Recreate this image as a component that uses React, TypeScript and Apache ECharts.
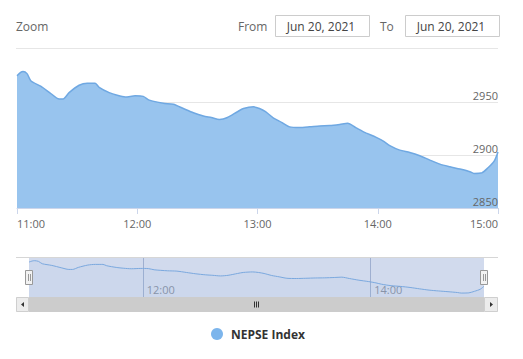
import React, { useEffect, useRef } from "react";
import * as echarts from "echarts";

const times = [
  "11:00", "11:02", "11:03", "11:05", "11:07", "11:12", "11:17", "11:21", "11:23", "11:26",
  "11:31", "11:35", "11:39", "11:41", "11:46", "11:50", "11:54", "11:59", "12:03", "12:06",
  "12:13", "12:18", "12:23", "12:28", "12:33", "12:37", "12:41", "12:45", "12:50", "12:53",
  "12:58", "13:01", "13:04", "13:08", "13:12", "13:16", "13:21", "13:26", "13:31", "13:36",
  "13:41", "13:45", "13:49", "13:54", "13:59", "14:03", "14:06", "14:11", "14:16", "14:21",
  "14:26", "14:31", "14:36", "14:41", "14:46", "14:48", "14:52", "14:55", "14:58", "15:00",
];
const values = [
  2975, 2978.5, 2979, 2977, 2970, 2965, 2958, 2953, 2953, 2959,
  2966, 2968, 2968, 2964, 2959, 2956.5, 2955, 2956, 2955.5, 2952,
  2949, 2948, 2944, 2940, 2937, 2935.5, 2933.7, 2935.5, 2941, 2944,
  2945.6, 2944, 2941, 2935, 2931, 2926.7, 2926, 2926.7, 2927.6, 2928,
  2929, 2930, 2926, 2921, 2917, 2913, 2909, 2904.7, 2902.5, 2899.4,
  2895.3, 2891.5, 2889, 2886.8, 2884.3, 2882.7, 2883.3, 2888, 2894, 2903,
];
const seriesName = "NEPSE Index";
const fromDate = "Jun 20, 2021";
const toDate = "Jun 20, 2021";
const yTicks = [2850, 2900, 2950];

const toMin = (t: string) => {
  const [h, m] = t.split(":").map(Number);
  return (h - 11) * 60 + m;
};
const fmt = (v: number) => `${11 + Math.round(v / 60)}:00`;

export default function App() {
  const ref = useRef<HTMLDivElement>(null);
  useEffect(() => {
    if (!ref.current) return;
    const chart = echarts.init(ref.current, undefined, { renderer: "svg" });
    const data = times.map((t, i) => [toMin(t), values[i]]);
    const font = "'Open Sans', sans-serif";
    const yMax = 2988;
    const hdr = (text: string, x: number, fill: string, align = "left") => ({
      type: "text",
      x,
      y: 26,
      style: { text, fill, font: `12px ${font}`, align, verticalAlign: "middle" },
    });
    chart.setOption({
      animation: false,
      textStyle: { fontFamily: font },
      legend: {
        data: [seriesName],
        left: 206,
        top: 323,
        icon: "circle",
        itemWidth: 12,
        itemHeight: 12,
        itemGap: 8,
        textStyle: { fontWeight: "bold", fontSize: 12, color: "#333", fontFamily: font, padding: [0, 0, 0, 3] },
      },
      grid: [
        { left: 17, right: 25, top: 62, height: 146 },
        { left: 29, right: 39, top: 257, height: 40 },
      ],
      xAxis: [
        {
          type: "value",
          gridIndex: 0,
          min: 0,
          max: 240,
          interval: 60,
          axisLine: { show: true, lineStyle: { color: "#ccd6eb" } },
          axisTick: { show: true, length: 6, lineStyle: { color: "#ccd6eb" } },
          splitLine: { show: false },
          axisLabel: {
            formatter: fmt,
            color: "#666",
            fontSize: 11,
            margin: 10,
            fontFamily: font,
            alignMinLabel: "left",
            alignMaxLabel: "right",
          },
        },
        {
          type: "value",
          gridIndex: 1,
          min: 0,
          max: 240,
          interval: 60,
          axisLine: { show: false },
          axisTick: { show: false },
          splitLine: { show: true, lineStyle: { color: ["rgba(0,0,0,0)", "#b8c2d6"], width: 1 } },
          axisLabel: {
            inside: true,
            formatter: (v: number) => (v === 60 || v === 180 ? fmt(v) : ""),
            color: "#999",
            fontSize: 11,
            margin: 2,
            align: "left",
            padding: [0, 0, 0, 4],
            fontFamily: font,
          },
        },
      ],
      yAxis: [
        {
          type: "value",
          gridIndex: 0,
          position: "right",
          min: yTicks[0],
          max: yMax,
          interval: 50,
          z: 10,
          axisLine: { show: false },
          axisTick: { show: false },
          splitLine: { show: false },
          axisLabel: {
            inside: true,
            showMaxLabel: false,
            formatter: (v: number) => String(v),
            color: "#666",
            fontSize: 11,
            margin: 0,
            verticalAlign: "bottom",
            padding: [0, 0, 1, 0],
            fontFamily: font,
          },
        },
        {
          type: "value",
          gridIndex: 1,
          min: 2871,
          max: 2990,
          show: false,
          splitLine: { show: false },
        },
        {
          type: "value",
          gridIndex: 0,
          position: "left",
          min: yTicks[0],
          max: yMax,
          interval: 50,
          z: 0,
          axisLine: { show: false },
          axisTick: { show: false },
          axisLabel: { show: false },
          splitLine: {
            show: true,
            lineStyle: { color: ["#e6e6e6", "#e6e6e6", "#e6e6e6", "rgba(0,0,0,0)"] },
          },
        },
      ],
      series: [
        {
          name: seriesName,
          type: "line",
          data,
          xAxisIndex: 0,
          yAxisIndex: 0,
          showSymbol: false,
          smooth: 0.25,
          color: "#7cb5ec",
          lineStyle: { color: "#6fa8e2", width: 1.5 },
          areaStyle: { color: "#98c4ee", opacity: 1 },
          z: 3,
        },
        {
          name: "navigator",
          type: "line",
          data,
          xAxisIndex: 1,
          yAxisIndex: 1,
          showSymbol: false,
          smooth: 0.25,
          lineStyle: { color: "#7aa8de", width: 1 },
          areaStyle: { color: "#7cb5ec", opacity: 0.05 },
          z: 3,
          silent: true,
        },
      ],
      graphic: [
        hdr("Zoom", 16, "#666"),
        hdr("From", 238, "#666"),
        { type: "rect", shape: { x: 275.5, y: 15.5, width: 94, height: 21 }, style: { fill: "#fff", stroke: "#ccc", lineWidth: 1 } },
        hdr(fromDate, 321, "#444", "center"),
        hdr("To", 380, "#666"),
        { type: "rect", shape: { x: 405.5, y: 15.5, width: 94, height: 21 }, style: { fill: "#fff", stroke: "#ccc", lineWidth: 1 } },
        hdr(toDate, 451, "#444", "center"),
        { type: "line", shape: { x1: 16, y1: 48.5, x2: 498, y2: 48.5 }, style: { stroke: "#e6e6e6", lineWidth: 1 } },
        // navigator mask and border
        { type: "rect", z: 1, shape: { x: 29, y: 257, width: 455, height: 40 }, style: { fill: "rgba(102,133,194,0.3)" } },
        { type: "line", z: 4, shape: { x1: 16, y1: 257.5, x2: 498, y2: 257.5 }, style: { stroke: "#d6d6d6", lineWidth: 1 } },
        // scrollbar
        { type: "rect", z: 4, shape: { x: 16, y: 297, width: 482, height: 15 }, style: { fill: "#f2f2f2" } },
        { type: "rect", z: 4, shape: { x: 29, y: 297, width: 455, height: 15 }, style: { fill: "#cccccc" } },
        { type: "rect", z: 4, shape: { x: 16.5, y: 297.5, width: 12, height: 14 }, style: { fill: "#ececec", stroke: "#cfcfcf", lineWidth: 1 } },
        { type: "rect", z: 4, shape: { x: 484.5, y: 297.5, width: 13, height: 14 }, style: { fill: "#ececec", stroke: "#cfcfcf", lineWidth: 1 } },
        { type: "polygon", z: 5, shape: { points: [[21, 304.5], [24, 302], [24, 307]] }, style: { fill: "#333" } },
        { type: "polygon", z: 5, shape: { points: [[493, 304.5], [490, 302], [490, 307]] }, style: { fill: "#333" } },
        { type: "line", z: 5, shape: { x1: 254.5, y1: 301.5, x2: 254.5, y2: 307.5 }, style: { stroke: "#333", lineWidth: 1 } },
        { type: "line", z: 5, shape: { x1: 256.5, y1: 301.5, x2: 256.5, y2: 307.5 }, style: { stroke: "#333", lineWidth: 1 } },
        { type: "line", z: 5, shape: { x1: 258.5, y1: 301.5, x2: 258.5, y2: 307.5 }, style: { stroke: "#333", lineWidth: 1 } },
        // handles
        { type: "rect", z: 6, shape: { x: 25.5, y: 270.5, width: 7, height: 14 }, style: { fill: "#f2f2f2", stroke: "#999", lineWidth: 1 } },
        { type: "line", z: 7, shape: { x1: 28.5, y1: 274, x2: 28.5, y2: 281 }, style: { stroke: "#999", lineWidth: 1 } },
        { type: "line", z: 7, shape: { x1: 30.5, y1: 274, x2: 30.5, y2: 281 }, style: { stroke: "#999", lineWidth: 1 } },
        { type: "rect", z: 6, shape: { x: 480.5, y: 270.5, width: 7, height: 14 }, style: { fill: "#f2f2f2", stroke: "#999", lineWidth: 1 } },
        { type: "line", z: 7, shape: { x1: 483.5, y1: 274, x2: 483.5, y2: 281 }, style: { stroke: "#999", lineWidth: 1 } },
        { type: "line", z: 7, shape: { x1: 485.5, y1: 274, x2: 485.5, y2: 281 }, style: { stroke: "#999", lineWidth: 1 } },
      ],
    });
    return () => chart.dispose();
  }, []);
  return (
    <div
      ref={ref}
      style={{ position: "fixed", left: 0, top: 0, width: 523, height: 359, background: "#fff" }}
    />
  );
}
